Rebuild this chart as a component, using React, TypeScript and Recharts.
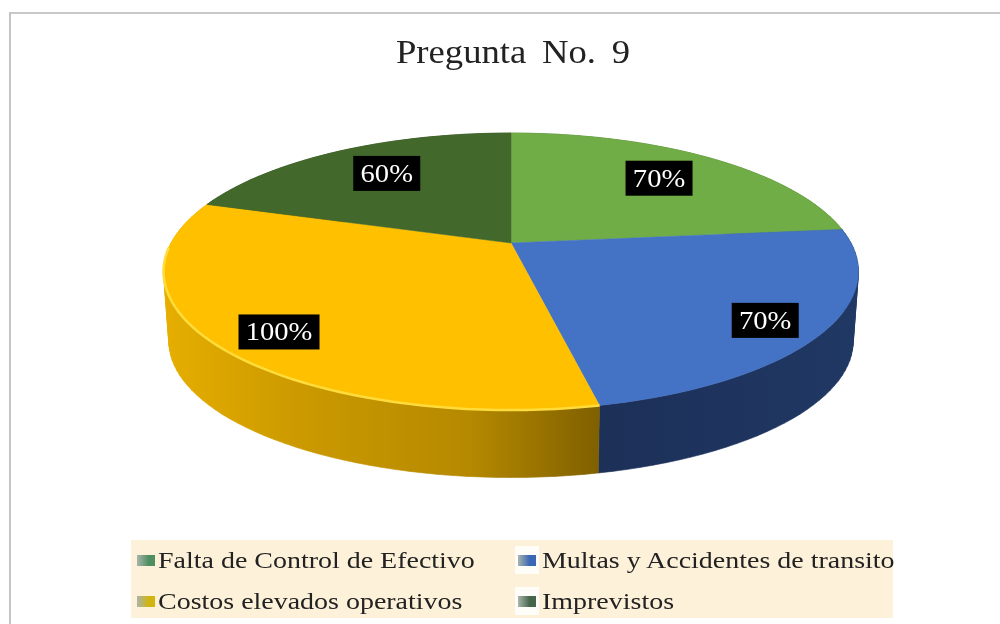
import { PieChart, Pie, Legend } from "recharts";

const categories = [
  "Falta de Control de Efectivo",
  "Multas y Accidentes de transito",
  "Costos elevados operativos",
  "Imprevistos",
];
const values = [70, 70, 100, 60];
const topColors = ["#70ad47", "#4472c4", "#ffc000", "#43682b"];
const wallColors = ["#4f7a32", "url(#wallBlue)", "url(#wallYellow)", "#2f4a1e"];
const legendIconColors = ["#4f8f5f", "#3a68b5", "#d0b510", "#46664a"];

// where each label sits: reach along the slice (1 = rim) plus a small hand nudge
const labelReach = [0.75, 0.84, 0.815, 0.675];
const labelNudgeX = [-5, -3, 0, -3];
const labelNudgeY = [1, 4, 7, -5];

const tilt = 0.39; // vertical squash of the disc
const persp = -0.206; // front of the disc comes closer
const depth = 70; // height of the wall
const bottomScale = 0.985;

const topData = categories.map((name, i) => ({ name, value: values[i], fill: topColors[i] }));
const wallData = categories.map((name, i) => ({ name, value: values[i], fill: wallColors[i] }));

type Pt = { x: number; y: number };

// maps a point on the flat pie (r in 0..1, recharts degrees) onto the tilted disc
function project(cx: number, cy: number, R: number, r: number, deg: number) {
  const a = ((90 - deg) * Math.PI) / 180;
  const u = Math.sin(a) * r;
  const v = -Math.cos(a) * r;
  const d = 1 + persp * v;
  return { x: cx + (R * u) / d, y: cy + (R * tilt * v) / d };
}

function arcPoints(cx: number, cy: number, R: number, from: number, to: number) {
  const steps = Math.max(2, Math.ceil(Math.abs(to - from) / 2));
  const pts: Pt[] = [];
  for (let i = 0; i <= steps; i++) {
    pts.push(project(cx, cy, R, 1, from + ((to - from) * i) / steps));
  }
  return pts;
}

const toPath = (pts: Pt[]) =>
  pts.map((p, i) => `${i ? "L" : "M"}${p.x.toFixed(1)},${p.y.toFixed(1)}`).join(" ");

// all quads wound the same way, otherwise overlaps at the disc's sides cancel out
function wound(pts: Pt[]) {
  let area = 0;
  pts.forEach((p, i) => {
    const q = pts[(i + 1) % pts.length];
    area += p.x * q.y - q.x * p.y;
  });
  return area < 0 ? [...pts].reverse() : pts;
}

function TopSlice(props: any) {
  const { cx, cy, outerRadius, startAngle, endAngle, fill } = props;
  const arc = arcPoints(cx, cy, outerRadius, startAngle, endAngle);
  const d = `M${cx},${cy} ${toPath(arc).replace("M", "L")} Z`;
  // bright bevel only on the front-left of the yellow slice
  const rim = arcPoints(cx, cy, outerRadius, startAngle, startAngle - 100);
  return (
    <g>
      <path d={d} fill={fill} stroke={fill} strokeWidth={0.5} />
      {fill === "#ffc000" && <path d={toPath(rim)} fill="none" stroke="#ffdc3c" strokeWidth={2.5} />}
    </g>
  );
}

// one quad per arc step, so the silhouette runs straight from top rim to bottom rim
function WallSlice(props: any) {
  const { cx, cy, outerRadius, startAngle, endAngle, fill } = props;
  const top = arcPoints(cx, cy, outerRadius, startAngle, endAngle);
  const bottom = arcPoints(cx, cy + depth, outerRadius * bottomScale, startAngle, endAngle);
  const quads = top.slice(1).map((p, i) => toPath(wound([top[i], p, bottom[i + 1], bottom[i]])) + " Z");
  return <path d={quads.join(" ")} fill={fill} stroke={fill} strokeWidth={0.6} />;
}

function SliceLabel(props: any) {
  const { cx, cy, outerRadius, midAngle, value, index } = props;
  const p = project(cx, cy, outerRadius, labelReach[index], midAngle);
  const x = p.x + labelNudgeX[index];
  const y = p.y + labelNudgeY[index];
  const w = value >= 100 ? 81 : 67;
  return (
    <g>
      <rect x={x - w / 2} y={y - 17} width={w} height={35} fill="#000" />
      <text
        transform={`translate(${x},${y + 9}) scale(1.1,1)`}
        textAnchor="middle"
        fontFamily="Liberation Serif"
        fontSize={26}
        fill="#fff"
      >
        {value}%
      </text>
    </g>
  );
}

function LegendBox() {
  return (
    <div
      style={{
        position: "relative",
        width: 762,
        height: 78,
        background: "#fdf1d9",
        fontFamily: "Liberation Serif",
        fontSize: 24,
        color: "#222",
      }}
    >
      {categories.map((name, i) => (
        <div
          key={name}
          style={{
            position: "absolute",
            left: i % 2 ? 384 : 0,
            top: i < 2 ? 6 : 47,
            height: 28,
            width: i % 2 ? 24 : 29,
            background: i % 2 ? "#fffdf8" : "transparent",
          }}
        >
          <span
            style={{
              position: "absolute",
              left: i % 2 ? 3 : 6,
              top: 9,
              width: 18,
              height: 11,
              background: `linear-gradient(90deg, #a8b4ac 0%, ${legendIconColors[i]} 65%)`,
            }}
          />
          <span
            style={{
              position: "absolute",
              left: 27,
              top: 0,
              lineHeight: "28px",
              whiteSpace: "nowrap",
              transformOrigin: "left center",
              transform: "scaleX(1.165)",
            }}
          >
            {name}
          </span>
        </div>
      ))}
    </div>
  );
}

export default function App() {
  return (
    <div
      style={{
        position: "absolute",
        left: 0,
        top: 0,
        width: 1000,
        height: 624,
        background: "#fff",
        overflow: "hidden",
        filter: "blur(0.5px)",
      }}
    >
      <div
        style={{
          position: "absolute",
          left: 9,
          top: 12,
          width: 991,
          height: 612,
          borderLeft: "2px solid #c4c4c4",
          borderTop: "2px solid #c8c8c8",
        }}
      />
      <div
        style={{
          position: "absolute",
          left: 396,
          top: 34,
          transformOrigin: "left center",
          transform: "scaleX(1.11)",
          whiteSpace: "pre",
          fontFamily: "Liberation Serif",
          fontSize: 33,
          wordSpacing: 6,
          color: "#222",
        }}
      >
        Pregunta No. 9
      </div>
      <PieChart
        width={1000}
        height={624}
        margin={{ top: 0, right: 0, bottom: 0, left: 0 }}
        style={{ position: "absolute", left: 0, top: 0 }}
      >
        <defs>
          <linearGradient id="wallYellow" gradientUnits="userSpaceOnUse" x1={165} x2={600} y1={0} y2={0}>
            <stop offset="0" stopColor="#e6ae00" />
            <stop offset="0.3" stopColor="#cc9a00" />
            <stop offset="0.7" stopColor="#b58900" />
            <stop offset="1" stopColor="#7f6000" />
          </linearGradient>
          <linearGradient id="wallBlue" gradientUnits="userSpaceOnUse" x1={598} x2={858} y1={0} y2={0}>
            <stop offset="0" stopColor="#1c3058" />
            <stop offset="1" stopColor="#203864" />
          </linearGradient>
        </defs>
        <Pie
          data={wallData}
          dataKey="value"
          cx={511}
          cy={243}
          outerRadius={340}
          startAngle={90}
          endAngle={-270}
          stroke="none"
          legendType="none"
          isAnimationActive={false}
          shape={WallSlice}
        />
        <Pie
          data={topData}
          dataKey="value"
          cx={511}
          cy={243}
          outerRadius={340}
          startAngle={90}
          endAngle={-270}
          stroke="none"
          labelLine={false}
          label={SliceLabel}
          isAnimationActive={false}
          shape={TopSlice}
        />
        <Legend
          content={LegendBox}
          wrapperStyle={{ position: "absolute", left: 131, top: 540, width: 762, height: 78, bottom: "auto" }}
        />
      </PieChart>
    </div>
  );
}
